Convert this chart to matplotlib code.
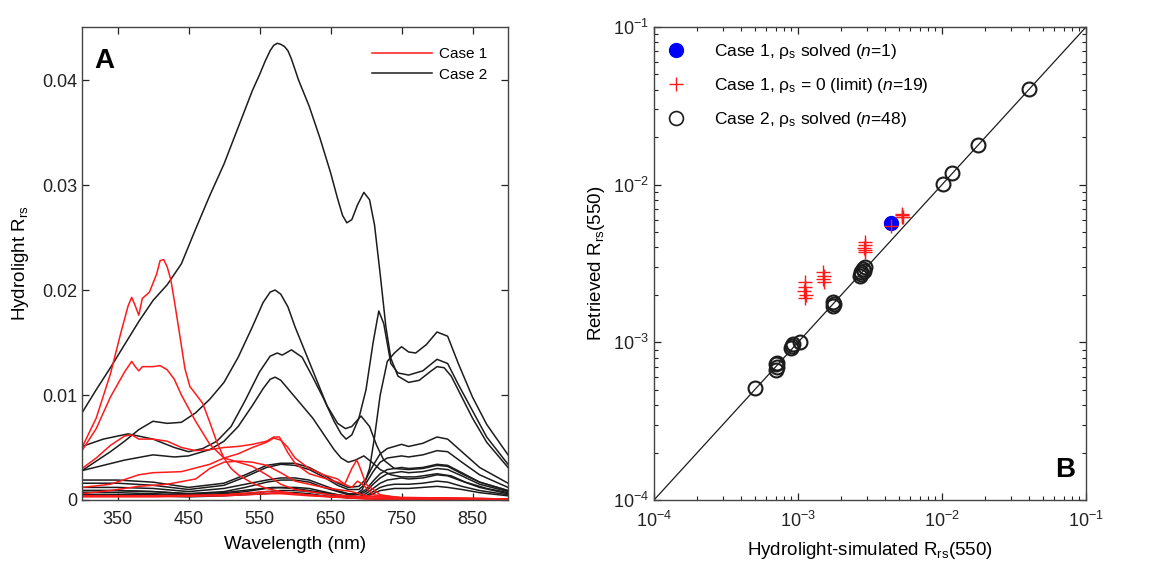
import numpy as np
import matplotlib
matplotlib.use("Agg")
import matplotlib.pyplot as plt
from matplotlib.lines import Line2D
from matplotlib.ticker import LogLocator, NullFormatter

plt.rcParams['font.family'] = ['Liberation Sans', 'DejaVu Sans']
plt.rcParams['mathtext.fontset'] = 'custom'
plt.rcParams['mathtext.rm'] = 'Liberation Sans'
plt.rcParams['mathtext.it'] = 'Liberation Sans:italic'
plt.rcParams['mathtext.bf'] = 'Liberation Sans:bold'

# ---------------- Panel A: Hydrolight Rrs spectra ----------------
# Case 2 spectra (black)
K1_WL = [300, 320, 340, 360, 380, 400, 420, 440, 460, 480, 500, 520, 540, 550, 558, 565, 570, 575,
         580, 585, 590, 595, 605, 620, 635, 650, 660, 667, 673, 680, 688, 697, 705, 712, 720, 728,
         735, 745, 760, 775, 790, 800, 810, 820, 835, 850, 870, 900]
K1_RRS = [.0083, .0105, .0126, .0148, .0170, .0190, .0205, .0225, .0258, .0290, .0320, .0355, .0390,
          .0405, .0418, .0428, .0433, .0435, .0434, .0432, .0428, .0420, .0400, .0375, .0345, .0312,
          .0287, .0271, .0264, .0267, .0281, .0293, .0286, .0262, .0215, .0165, .0135, .0118, .0112,
          .0114, .0122, .0127, .0126, .0118, .0098, .0078, .0055, .0031]

K2_WL = [300, 320, 340, 360, 380, 400, 420, 440, 460, 480, 500, 520, 540, 555, 565, 572, 580, 590,
         600, 615, 630, 645, 660, 671, 680, 693, 705, 715, 725, 740, 760, 780, 800, 815, 835, 860, 900]
K2_RRS = [.0028, .0037, .0046, .0056, .0067, .0075, .0073, .0074, .0083, .0096, .0112, .0136, .0165,
          .0188, .0198, .0200, .0196, .0184, .0165, .0140, .0115, .0090, .0073, .0068, .0070, .0080,
          .0070, .0052, .0038, .0030, .0029, .0030, .0033, .0032, .0025, .0017, .0009]

K3_WL = [300, 330, 365, 400, 430, 450, 470, 490, 510, 530, 550, 565, 575, 582, 595, 610, 625, 640,
         655, 665, 672, 680, 690, 700, 710, 718, 725, 735, 745, 760, 780, 800, 815, 830, 850, 870, 900]
K3_RRS = [.0051, .0058, .0063, .0058, .0050, .0046, .0049, .0056, .0070, .0095, .0122, .0137, .0140,
          .0138, .0143, .0136, .0117, .0097, .0075, .0063, .0058, .0062, .0078, .0105, .0150, .0180,
          .0168, .0130, .0121, .0119, .0123, .0134, .0130, .0110, .0085, .0060, .0034]

K4_WL = [300, 330, 360, 400, 430, 450, 480, 500, 520, 540, 555, 565, 572, 580, 595, 610, 625, 640,
         655, 665, 675, 685, 697, 710, 720, 735, 750, 770, 800, 820, 840, 870, 900]
K4_RRS = [.0028, .0033, .0038, .0043, .0041, .0042, .0048, .0056, .0070, .0090, .0106, .0115, .0117,
          .0114, .0102, .0090, .0078, .0063, .0048, .0040, .0036, .0038, .0042, .0035, .0029, .0024,
          .0022, .0022, .0025, .0023, .0017, .0011, .0007]

K5_WL = [300, 350, 400, 450, 500, 540, 570, 600, 640, 670, 685, 695, 705, 712, 720, 730, 740, 750,
         760, 770, 785, 800, 815, 830, 850, 870, 900]
K5_RRS = [.0009, .0009, .0008, .0006, .0007, .0010, .0012, .0011, .0007, .0004, .0005, .0010, .0030,
          .0060, .0100, .0132, .0140, .0146, .0141, .0140, .0148, .0160, .0156, .0130, .0098, .0072,
          .0043]

# low-reflectance Case 2 spectra share one wavelength grid
LOW_WL = [300, 350, 400, 450, 500, 530, 560, 580, 600, 620, 640, 660, 675, 690, 700, 710, 720, 730,
          740, 750, 760, 780, 800, 815, 835, 860, 900]
LOW1 = [.0019, .0019, .0017, .0012, .0016, .0024, .0033, .0035, .0035, .0031, .0024, .0016, .0012,
        .0013, .0020, .0033, .0044, .0049, .0051, .0053, .0051, .0054, .0060, .0058, .0046, .0031, .0016]
LOW2 = [.0016, .0016, .0014, .0010, .0014, .0022, .0031, .0034, .0033, .0029, .0022, .0014, .0010,
        .0010, .0016, .0027, .0036, .0040, .0041, .0042, .0041, .0043, .0047, .0046, .0036, .0024, .0012]
LOW3 = [.0012, .0012, .0011, .0008, .0011, .0015, .0019, .0021, .0021, .0019, .0014, .0009, .0006,
        .0006, .0010, .0018, .0025, .0029, .0030, .0031, .0030, .0031, .0034, .0033, .0026, .0017, .0009]
LOW4 = [.0009, .0009, .0008, .0006, .0008, .0012, .0017, .0019, .0019, .0017, .0012, .0008, .0005,
        .0005, .0008, .0015, .0021, .0025, .0026, .0027, .0026, .0027, .0030, .0029, .0023, .0015, .0008]
LOW5 = [.0007, .0007, .0006, .0005, .0006, .0008, .0011, .0012, .0012, .0011, .0008, .0005, .0003,
        .0003, .0006, .0011, .0016, .0019, .0020, .0021, .0020, .0021, .0024, .0023, .0018, .0012, .0006]
LOW6 = [.0005, .0005, .0005, .0004, .0005, .0006, .0008, .0009, .0009, .0008, .0006, .0004, .0002,
        .0002, .0004, .0008, .0012, .0014, .0015, .0015, .0015, .0016, .0018, .0017, .0013, .0009, .0005]
LOW7 = [.0004, .0004, .0004, .0003, .0004, .0005, .0006, .0007, .0007, .0006, .0004, .0003, .0002,
        .0002, .0003, .0006, .0009, .0010, .0011, .0011, .0011, .0012, .0013, .0012, .0010, .0007, .0004]

# Case 1 spectra (red)
R1_WL = [300, 320, 340, 355, 365, 370, 375, 380, 385, 395, 405, 410, 415, 420, 425, 430, 437, 445,
         452, 460, 470, 480, 490, 500, 510, 520, 540, 560, 580, 600, 650, 700, 750, 800, 900]
R1_RRS = [.0050, .0078, .0120, .0160, .0185, .0193, .0185, .0176, .0192, .0198, .0215, .0228, .0229,
          .0222, .0210, .0190, .0160, .0125, .0108, .0101, .0092, .0074, .0055, .0040, .0030, .0024,
          .0016, .0011, .0008, .0006, .0003, .0002, .0001, .0001, .0001]

R2_WL = [300, 320, 340, 360, 370, 375, 380, 385, 400, 410, 420, 430, 440, 460, 480, 500, 520, 540,
         560, 580, 600, 650, 700, 800, 900]
R2_RRS = [.0047, .0068, .0098, .0122, .0132, .0127, .0123, .0127, .0127, .0128, .0124, .0115, .0100,
          .0075, .0053, .0040, .0036, .0032, .0024, .0015, .0010, .0005, .0003, .0002, .0001]

R3_WL = [300, 320, 340, 360, 370, 380, 400, 420, 440, 460, 480, 500, 520, 540, 560, 570, 578, 590,
         600, 620, 640, 660, 670, 680, 687, 692, 700, 720, 750, 800, 900]
R3_RRS = [.0030, .0040, .0052, .0061, .0062, .0058, .0058, .0056, .0050, .0047, .0048, .0050, .0051,
          .0053, .0056, .0060, .0060, .0045, .0035, .0025, .0021, .0017, .0015, .0030, .0038, .0030,
          .0015, .0005, .0002, .0002, .0001]

R4_WL = [300, 340, 380, 400, 440, 480, 500, 520, 540, 560, 570, 580, 590, 600, 620, 640, 660, 670,
         680, 688, 695, 710, 750, 900]
R4_RRS = [.0012, .0015, .0024, .0026, .0027, .0034, .0040, .0044, .0050, .0055, .0059, .0057, .0050,
          .0040, .0030, .0024, .0020, .0015, .0012, .0018, .0015, .0005, .0002, .0001]

R5_WL = [300, 340, 380, 420, 460, 480, 500, 520, 540, 560, 580, 600, 640, 680, 700, 750, 900]
R5_RRS = [.0006, .0009, .0013, .0015, .0020, .0030, .0036, .0037, .0036, .0033, .0026, .0018, .0012,
          .0008, .0004, .0002, .0001]

R6_WL = [300, 400, 500, 560, 580, 650, 700, 900]
R6_RRS = [.0004, .0004, .0005, .0008, .0007, .0003, .0001, .0000]

R7_WL = [300, 400, 500, 560, 580, 620, 680, 720, 900]
R7_RRS = [.0003, .0003, .0004, .0006, .0006, .0004, .0002, .00005, .00005]

A_XTICKS = [350, 450, 550, 650, 750, 850]
A_YTICKS = [0, 0.01, 0.02, 0.03, 0.04]
A_YTICKLABELS = ['0', '0.01', '0.02', '0.03', '0.04']

# ---------------- Panel B: retrieved vs simulated Rrs(550) ----------------
C1_SOLVED_X = [0.00445]
C1_SOLVED_Y = [0.0057]

C1_LIMIT_X = [0.00111, 0.00112, 0.00110, 0.00113, 0.00112,
              0.00150, 0.00151, 0.00149, 0.00152,
              0.00290, 0.00292, 0.00289, 0.00291, 0.00290,
              0.00445,
              0.00525, 0.00530, 0.00535, 0.00528]
C1_LIMIT_Y = [0.00240, 0.00225, 0.00212, 0.00200, 0.00192,
              0.00280, 0.00265, 0.00252, 0.00240,
              0.00430, 0.00412, 0.00398, 0.00385, 0.00372,
              0.00550,
              0.00655, 0.00640, 0.00628, 0.00620]

C2_X = [0.00050, 0.00070, 0.00071, 0.00070, 0.00072, 0.00090, 0.00091, 0.00092, 0.00104,
        0.00175, 0.00177, 0.00176, 0.00270, 0.00272, 0.00275, 0.00285, 0.00290, 0.00288,
        0.0101, 0.0117, 0.0177, 0.0403]
C2_Y = [0.000510, 0.000670, 0.000700, 0.000730, 0.000740, 0.000920, 0.000950, 0.000980, 0.00101,
        0.00170, 0.00175, 0.00180, 0.00262, 0.00270, 0.00280, 0.00290, 0.00300, 0.00285,
        0.01005, 0.0119, 0.0179, 0.0403]

B_LIM = [1e-4, 1e-1]

# ---------------- figure ----------------
fig = plt.figure(figsize=(11.53, 5.71), dpi=100)
axA = fig.add_axes([82 / 1153, 71 / 571, 426 / 1153, 473 / 571])
axB = fig.add_axes([654 / 1153, 71 / 571, 432 / 1153, 473 / 571])

black = '#1c1c1c'
red = '#ff1a1a'
lw = 1.1

black_curves = [(K1_WL, K1_RRS), (K2_WL, K2_RRS), (K3_WL, K3_RRS), (K4_WL, K4_RRS),
                (K5_WL, K5_RRS), (LOW_WL, LOW1), (LOW_WL, LOW2), (LOW_WL, LOW3),
                (LOW_WL, LOW4), (LOW_WL, LOW5), (LOW_WL, LOW6), (LOW_WL, LOW7)]
red_curves = [(R1_WL, R1_RRS), (R2_WL, R2_RRS), (R3_WL, R3_RRS), (R4_WL, R4_RRS),
              (R5_WL, R5_RRS), (R6_WL, R6_RRS), (R7_WL, R7_RRS)]

for wl, v in black_curves:
    axA.plot(wl, v, color=black, lw=lw, solid_joinstyle='round')
for wl, v in red_curves:
    axA.plot(wl, v, color=red, lw=lw, solid_joinstyle='round')

axA.set_xlim(300, 900)
axA.set_ylim(0, 0.04505)
axA.set_xticks(A_XTICKS)
axA.set_yticks(A_YTICKS)
axA.set_yticklabels(A_YTICKLABELS)
axA.set_xlabel('Wavelength (nm)', fontsize=13.5, labelpad=6)
axA.set_ylabel('Hydrolight R$_{\\mathrm{rs}}$', fontsize=13.5, labelpad=8)
axA.text(0.030, 0.955, 'A', transform=axA.transAxes, fontsize=20, fontweight='bold',
         va='top', ha='left')

handlesA = [Line2D([], [], color=red, lw=lw), Line2D([], [], color=black, lw=lw)]
axA.legend(handlesA, ['Case 1', 'Case 2'], loc='upper left', bbox_to_anchor=(0.681, 0.958),
           frameon=False, fontsize=11, handlelength=3.9, handletextpad=0.45,
           labelspacing=0.45, borderpad=0, borderaxespad=0)

# panel B
axB.plot(B_LIM, B_LIM, color=black, lw=0.9, zorder=1)
axB.plot(C2_X, C2_Y, linestyle='none', marker='o', ms=10, mfc='none', mec=black, mew=1.5, zorder=2)
axB.plot(C1_SOLVED_X, C1_SOLVED_Y, linestyle='none', marker='o', ms=10, mfc='#0000ff',
         mec='#0000ff', zorder=3)
axB.plot(C1_LIMIT_X, C1_LIMIT_Y, linestyle='none', marker='+', ms=10, mec=red, mew=1.0, zorder=4)
axB.set_xscale('log')
axB.set_yscale('log')
axB.set_xlim(*B_LIM)
axB.set_ylim(*B_LIM)
for axis in (axB.xaxis, axB.yaxis):
    axis.set_major_locator(LogLocator(base=10, numticks=10))
    axis.set_minor_locator(LogLocator(base=10, subs=np.arange(2, 10), numticks=10))
    axis.set_minor_formatter(NullFormatter())
axB.set_xlabel('Hydrolight-simulated R$_{\\mathrm{rs}}$(550)', fontsize=13.5, labelpad=6)
axB.set_ylabel('Retrieved R$_{\\mathrm{rs}}$(550)', fontsize=13.5, labelpad=4)
axB.text(0.975, 0.035, 'B', transform=axB.transAxes, fontsize=20, fontweight='bold',
         va='bottom', ha='right')

handlesB = [Line2D([], [], linestyle='none', marker='o', ms=10, mfc='#0000ff', mec='#0000ff'),
            Line2D([], [], linestyle='none', marker='+', ms=10, mec=red, mew=1.0),
            Line2D([], [], linestyle='none', marker='o', ms=10, mfc='none', mec=black, mew=1.2)]
labelsB = ['Case 1, ρ$_{\\mathrm{s}}$ solved ($\\mathit{n}$=1)',
           'Case 1, ρ$_{\\mathrm{s}}$ = 0 (limit) ($\\mathit{n}$=19)',
           'Case 2, ρ$_{\\mathrm{s}}$ solved ($\\mathit{n}$=48)']
axB.legend(handlesB, labelsB, loc='upper left', bbox_to_anchor=(0.030, 0.968), frameon=False,
           fontsize=12.5, handlelength=1.0, handletextpad=1.7, labelspacing=0.85,
           borderpad=0, borderaxespad=0)

for ax in (axA, axB):
    ax.tick_params(which='both', direction='in', top=True, right=True, labelsize=13,
                   colors='#222222')
    ax.tick_params(which='major', length=5, width=0.9)
    ax.tick_params(which='minor', length=3, width=0.8)
    for s in ax.spines.values():
        s.set_color('#444444')
        s.set_linewidth(1.0)
axA.tick_params(axis='x', pad=8)
axB.tick_params(axis='x', pad=8)

fig.savefig('out.png', dpi=100)
